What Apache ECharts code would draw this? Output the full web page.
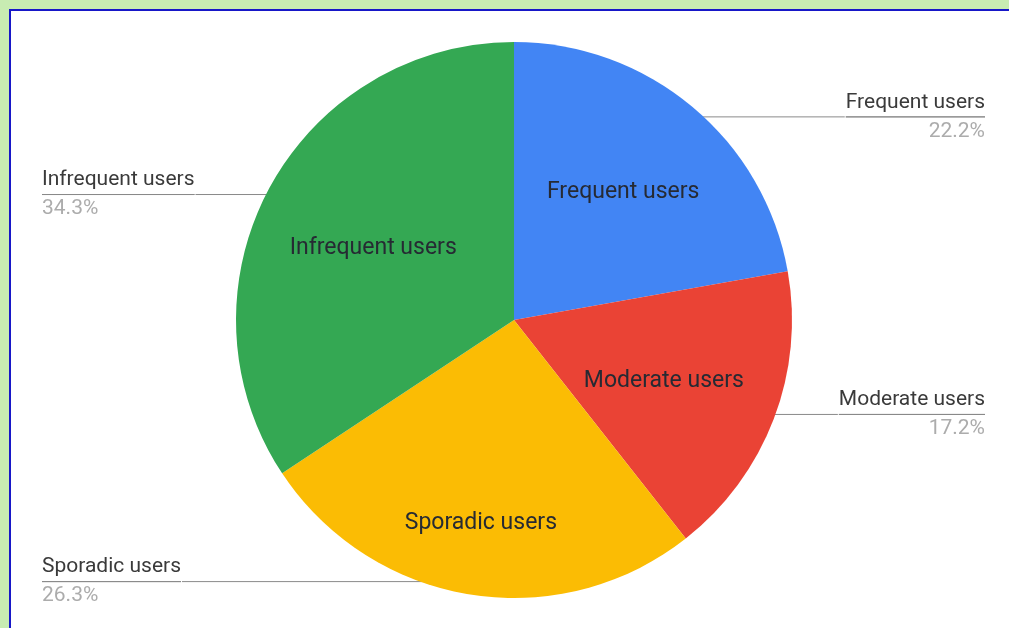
<!DOCTYPE html>
<html>
<head>
<meta charset="utf-8">
<script src="https://cdn.jsdelivr.net/npm/echarts@6/dist/echarts.min.js"></script>
<style>
  html, body { margin: 0; padding: 0; width: 1009px; height: 628px; overflow: hidden; background: #c8ecb2; }
  #frame { position: absolute; left: 9px; top: 9px; width: 1100px; height: 700px; background: #fff;
           border-left: 2px solid #1717c8; border-top: 2px solid #1717c8; }
  #chart { position: absolute; left: 0; top: 0; width: 1009px; height: 628px; }
</style>
</head>
<body>
<div id="frame"></div>
<div id="chart"></div>
<script>
// User groups and their shares of the total (percent)
const categories = ['Frequent users', 'Moderate users', 'Sporadic users', 'Infrequent users'];
const shares = [22.2, 17.2, 26.3, 34.3];
const colors = ['#4285f4', '#ea4335', '#fbbc04', '#34a853'];

const pieData = categories.map((name, i) => ({ name, value: shares[i] }));
const clear = { color: 'rgba(0,0,0,0)' };
const box = { left: 18, right: 0, top: 0, bottom: 0 };
const center = [496, 320];

// small nudges for the on-slice names
const innerShift = [{ dy: 3 }, { dx: -9, dy: 1 }, { dx: -6, dy: 35 }, { dx: 9, dy: 9 }];

const chart = echarts.init(document.getElementById('chart'), null, { renderer: 'canvas' });
chart.setOption({
  animation: false,
  color: colors,
  series: [
    {
      // filled slices
      type: 'pie', ...box, center, radius: 278,
      startAngle: 90, clockwise: true, silent: true,
      label: { show: false }, labelLine: { show: false },
      itemStyle: { borderWidth: 0 },
      data: pieData
    },
    {
      // names drawn on the slices
      type: 'pie', ...box, center, radius: [56, 278],
      startAngle: 90, clockwise: true, silent: true,
      itemStyle: clear,
      label: {
        show: true, position: 'inside', formatter: '{b}',
        fontFamily: 'Roboto', fontSize: 23, color: '#262a33'
      },
      labelLine: { show: false },
      labelLayout: p => innerShift[p.dataIndex],
      data: pieData
    },
    {
      // callout labels with name and percentage
      type: 'pie', ...box, center, radius: 265,
      startAngle: 90, clockwise: true, silent: true,
      itemStyle: clear,
      label: {
        show: true, position: 'outside', alignTo: 'edge', edgeDistance: 24,
        distanceToLabelLine: 0,
        formatter: p => '{name|' + p.name + '}\n{hr|}\n{pct|' + p.value.toFixed(1) + '%}',
        rich: {
          name: { fontFamily: 'Roboto', fontSize: 21, color: '#3a3a3a', lineHeight: 29 },
          hr: { borderColor: '#8a8a8a', borderWidth: 1, width: '100%', height: 0 },
          pct: { fontFamily: 'Roboto', fontSize: 21, color: '#acacac', lineHeight: 29 }
        }
      },
      labelLine: { show: true, length: 0, length2: 20, smooth: false,
                   lineStyle: { color: '#8a8a8a', width: 1 } },
      data: pieData
    }
  ]
});
</script>
</body>
</html>
